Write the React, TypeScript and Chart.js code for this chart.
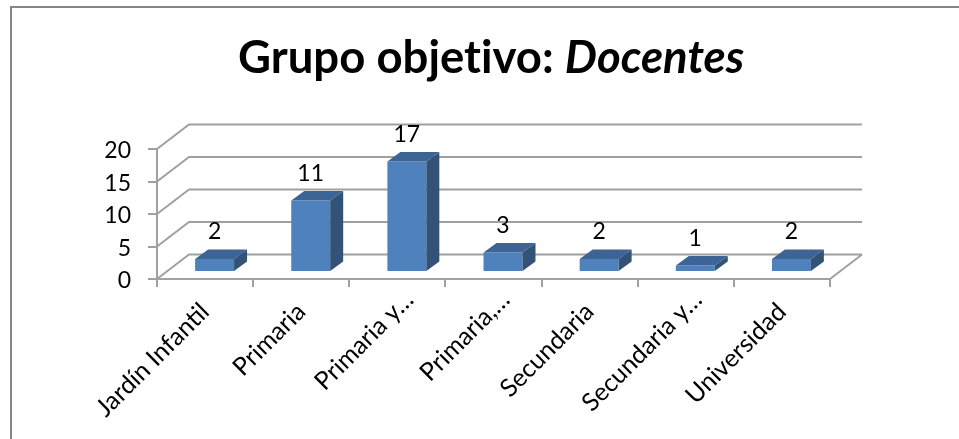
import React, { useEffect, useRef } from "react";
import { Chart, registerables } from "chart.js";

Chart.register(...registerables);

const titleBold = "Grupo objetivo: ";
const titleItalic = "Docentes";
const categories = [
  "Jardín Infantil",
  "Primaria",
  "Primaria y…",
  "Primaria,…",
  "Secundaria",
  "Secundaria y…",
  "Universidad",
];
const values = [2, 11, 17, 3, 2, 1, 2];
const yTicks = [0, 5, 10, 15, 20];

const FONT = "Lato, Carlito, sans-serif";
const GRID = "#a0a0a0";
const FRAME = "#868686";
const FRONT = "#4f81bd";
const TOP = "#3c6494";
const SIDE = "#335277";

// 3D projection offsets
const WALL_DX = 32;
const WALL_DY = -24.5;
const BAR_DX = 9.5;
const BAR_DY = -7;
const DEPTH_DX = 13;
const DEPTH_DY = -9.5;

const wallPlugin = {
  id: "wall3d",
  beforeDatasetsDraw(chart: any) {
    const { ctx, scales } = chart;
    const y = scales.y;
    const x = scales.x;
    ctx.save();
    ctx.strokeStyle = GRID;
    ctx.lineWidth = 2;
    ctx.beginPath();
    yTicks.forEach((t) => {
      const py = y.getPixelForValue(t);
      ctx.moveTo(x.left, py);
      ctx.lineTo(x.left + WALL_DX, py + WALL_DY);
      ctx.lineTo(x.right + WALL_DX, py + WALL_DY);
    });
    const fy = y.getPixelForValue(0);
    ctx.moveTo(x.right, fy);
    ctx.lineTo(x.right + WALL_DX, fy + WALL_DY);
    ctx.stroke();
    ctx.restore();
    ctx.save();
    ctx.translate(BAR_DX, BAR_DY);
  },
  afterDatasetsDraw(chart: any) {
    const { ctx } = chart;
    const meta = chart.getDatasetMeta(0);
    meta.data.forEach((bar: any, i: number) => {
      const l = bar.x - bar.width / 2;
      const r = bar.x + bar.width / 2;
      const t = bar.y;
      const b = bar.base;
      ctx.fillStyle = SIDE;
      ctx.beginPath();
      ctx.moveTo(r, t);
      ctx.lineTo(r + DEPTH_DX, t + DEPTH_DY);
      ctx.lineTo(r + DEPTH_DX, b + DEPTH_DY);
      ctx.lineTo(r, b);
      ctx.closePath();
      ctx.fill();
      ctx.fillStyle = TOP;
      ctx.beginPath();
      ctx.moveTo(l, t);
      ctx.lineTo(l + DEPTH_DX, t + DEPTH_DY);
      ctx.lineTo(r + DEPTH_DX, t + DEPTH_DY);
      ctx.lineTo(r, t);
      ctx.closePath();
      ctx.fill();
      ctx.fillStyle = "#000";
      ctx.font = `23px ${FONT}`;
      ctx.textAlign = "center";
      ctx.textBaseline = "middle";
      ctx.fillText(String(values[i]), bar.x, t - 27);
    });
    ctx.restore();
  },
};

const titlePlugin = {
  id: "mixedTitle",
  afterDraw(chart: any) {
    const { ctx } = chart;
    ctx.save();
    ctx.fillStyle = "#000";
    ctx.textAlign = "left";
    ctx.textBaseline = "alphabetic";
    ctx.letterSpacing = "0.01px";
    ctx.font = `bold 45.5px ${FONT}`;
    const w1 = ctx.measureText(titleBold).width;
    ctx.fillText(titleBold, 238, 73);
    ctx.font = `italic bold 45.5px ${FONT}`;
    ctx.fillText(titleItalic, 238 + w1, 73);
    ctx.restore();
  },
};

const framePlugin = {
  id: "frame",
  beforeDraw(chart: any) {
    const { ctx, scales } = chart;
    ctx.save();
    ctx.strokeStyle = FRAME;
    ctx.lineWidth = 2;
    ctx.beginPath();
    ctx.moveTo(11, 439);
    ctx.lineTo(11, 7);
    ctx.lineTo(959, 7);
    ctx.stroke();
    ctx.restore();
    // nudge the library's own tick labels to where the reference has them
    scales.x.getLabelItems(chart.chartArea).forEach((item: any) => {
      if (!item.nudged && String(item.label).endsWith("…")) {
        item.options.translation[0] += 12;
        item.options.translation[1] -= 12;
      }
      item.nudged = true;
    });
    scales.y.getLabelItems(chart.chartArea).forEach((item: any) => {
      if (!item.nudged) item.options.translation[1] += 2;
      item.nudged = true;
    });
  },
};

export default function App() {
  const ref = useRef<HTMLCanvasElement>(null);
  useEffect(() => {
    document.body.style.margin = "0";
    const chart = new Chart(ref.current!, {
      type: "bar",
      data: {
        labels: categories,
        datasets: [
          {
            data: values,
            backgroundColor: FRONT,
            barPercentage: 0.405,
            categoryPercentage: 1,
          },
        ],
      },
      options: {
        responsive: false,
        animation: false,
        layout: { padding: { top: 149, right: 129, left: 0, bottom: 0 } },
        plugins: { legend: { display: false }, title: { display: false }, tooltip: { enabled: false } },
        scales: {
          x: {
            afterFit: (s: any) => {
              s.height = 160;
            },
            grid: { drawOnChartArea: false, color: GRID, lineWidth: 2, tickLength: 8 },
            border: { color: GRID, width: 2 },
            ticks: {
              autoSkip: false,
              maxRotation: 45,
              minRotation: 45,
              color: "#000",
              padding: 10,
              font: { family: FONT, size: 25 },
            },
          },
          y: {
            min: 0,
            max: 20,
            afterFit: (s: any) => {
              s.width = 157;
            },
            grid: { drawOnChartArea: false, color: GRID, lineWidth: 2, tickLength: 9 },
            border: { color: GRID, width: 2 },
            ticks: {
              stepSize: 5,
              color: "#000",
              padding: 17,
              font: { family: FONT, size: 23 },
            },
          },
        },
      },
      plugins: [framePlugin, wallPlugin, titlePlugin],
    });
    return () => chart.destroy();
  }, []);
  return <canvas ref={ref} width={959} height={439} style={{ display: "block" }} />;
}
